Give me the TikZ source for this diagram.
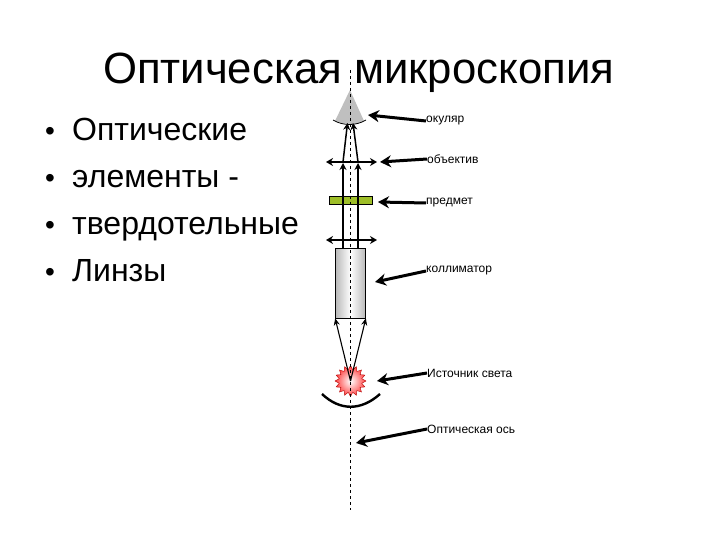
\documentclass[tikz,border=0pt]{standalone}
\usepackage{fontspec}
\setmainfont{Liberation Sans}
\usepackage{tikz}
\usetikzlibrary{shapes.geometric,arrows.meta}
\definecolor{slidegreen}{RGB}{158,190,40}
\tikzset{
  heavy/.style={line width=3pt,-{Stealth[length=11pt,width=12pt]}},
  ray/.style={line width=1.5pt,-{Stealth[length=7pt,width=7pt]}},
  thinray/.style={line width=1.1pt,-{Stealth[length=7pt,width=6pt]}},
  lens/.style={line width=1.6pt,{Stealth[length=7pt,width=8pt]}-{Stealth[length=7pt,width=8pt]}},
  tag/.style={anchor=west,inner sep=0pt,font=\fontsize{12}{12}\selectfont},
  point/.style={anchor=base west,inner sep=0pt,font=\fontsize{32}{38}\selectfont}
}
\begin{document}
\begin{tikzpicture}[x=1pt,y=-1pt]
\useasboundingbox (0,0) rectangle (720,540);
\fill[white] (0,0) rectangle (720,540);
\node[anchor=base,inner sep=0pt,font=\fontsize{43.7}{44}\selectfont] (title) at (358.5,84) {Оптическая микроскопия};
% bullet list
\foreach \y/\txt/\nm in {141/Оптические/one,188/элементы -/two,235/твердотельные/three,281/Линзы/four} {
  \node[point] (\nm) at (72,\y) {\txt};
  \node[anchor=base,inner sep=0pt,font=\fontsize{28}{30}\selectfont] (b\nm) at (50,\y) {•};
}
% eye
\fill[gray!50] (350,90) -- (335,121) .. controls (345,125) and (355,125) .. (364,121) -- cycle;
\draw[line width=.8pt] (333,120) .. controls (343,126) and (356,126) .. (366,120);
% green slide
\node[draw=black,fill=slidegreen,minimum width=43pt,minimum height=8pt,inner sep=0pt,line width=.5pt] (slide) at (350.5,200) {};
% collimator
\node[draw=black,line width=.7pt,left color=gray!55,right color=gray!55,middle color=white,minimum width=30pt,minimum height=70pt,inner sep=0pt] (tube) at (350.5,283) {};
% source
\node[star,star points=16,star point ratio=1.35,minimum size=31pt,inner sep=0pt,draw=red!70!black,line width=.4pt,inner color=white,outer color=red!75] (lamp) at (350.5,381) {};
% mirror
\draw[line width=2.4pt] (322,394) .. controls (340,411) and (361,411) .. (380,394);
% axis
\coordinate (axtop) at (350,70);
\coordinate (axbot) at (350,510);
\draw[dashed,line width=.6pt] (axtop) -- (axbot);
% lenses
\coordinate (ob1) at (326,162); \coordinate (ob2) at (377,162);
\coordinate (co1) at (326,240); \coordinate (co2) at (377,240);
\draw[lens] (ob1) -- (ob2);
\draw[lens] (co1) -- (co2);
% rays
\coordinate (rl) at (343,248); \coordinate (rr) at (358,248);
\coordinate (rlt) at (343,163); \coordinate (rrt) at (358,163);
\coordinate (el) at (347.5,123); \coordinate (er) at (353,123);
\draw[ray] (rl) -- (rlt);
\draw[ray] (rr) -- (rrt);
\draw[ray] (rlt |- ob1) -- (el);
\draw[ray] (rrt |- ob1) -- (er);
\coordinate (sc) at (350.5,381);
\draw[thinray] (sc) -- (tube.south west);
\draw[thinray] (sc) -- (tube.south east);
% labels
\node[tag] (ocular) at (426,121) {окуляр};
\node[tag] (objective) at (427,159) {объектив};
\node[tag] (object) at (426,203) {предмет};
\node[tag] (collim) at (426,271) {коллиматор};
\node[tag] (source) at (427,373) {Источник света};
\node[tag] (axis) at (427,429) {Оптическая ось};
\coordinate (pocular) at (368,115);
\coordinate (pobjective) at (380,162);
\coordinate (pobject) at (378,202);
\coordinate (pcollim) at (375,282);
\coordinate (psource) at (377,381);
\coordinate (paxis) at (356,443);
\foreach \nm in {ocular,objective,object,collim,source,axis}
  \draw[heavy] (\nm.west) -- (p\nm);
\end{tikzpicture}
\end{document}
